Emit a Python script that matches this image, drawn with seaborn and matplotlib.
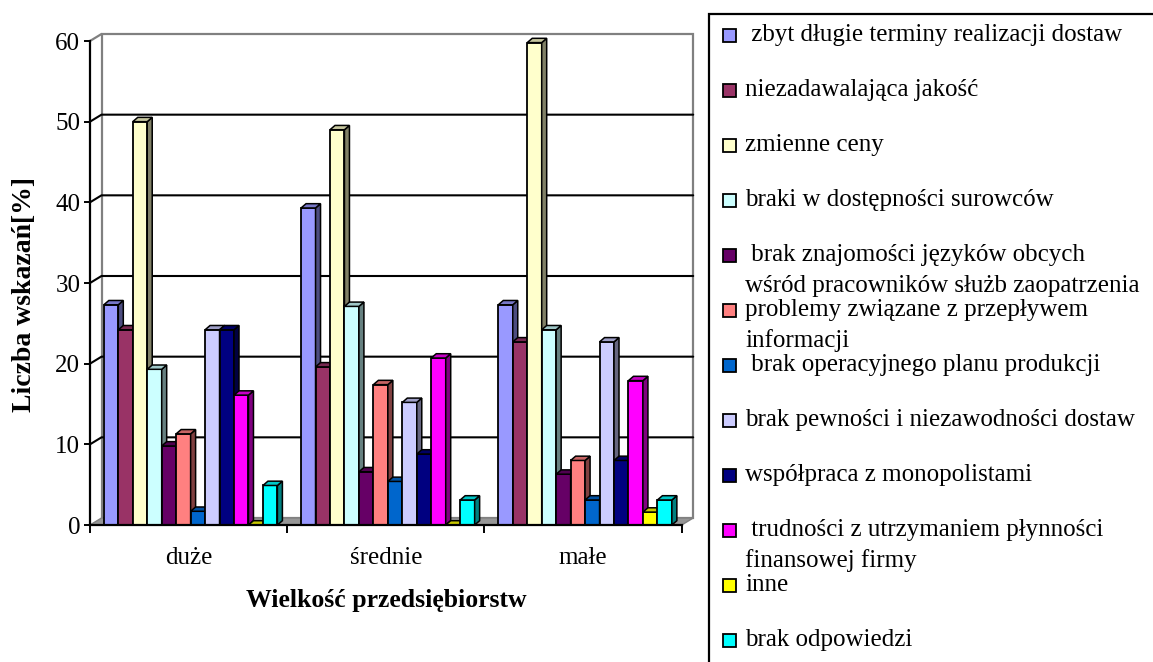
import numpy as np
import pandas as pd
import matplotlib
matplotlib.use("Agg")
import matplotlib.pyplot as plt
from matplotlib.patches import Polygon, Rectangle
from matplotlib.lines import Line2D
from matplotlib.colors import to_rgb
import seaborn as sns

# Company size groups
sizes = ["duże", "średnie", "małe"]

# Supply problems (legend labels)
causes = [
    " zbyt długie terminy realizacji dostaw",
    "niezadawalająca jakość",
    "zmienne ceny",
    "braki w dostępności surowców",
    " brak znajomości języków obcych\nwśród pracowników służb zaopatrzenia",
    "problemy związane z przepływem\ninformacji",
    " brak operacyjnego planu produkcji",
    "brak pewności i niezawodności dostaw",
    "współpraca z monopolistami",
    " trudności z utrzymaniem płynności\nfinansowej firmy",
    "inne",
    "brak odpowiedzi",
]

# Share of indications [%] per problem, for duże / średnie / małe
v_duze = [27.3, 24.2, 50.0, 19.3, 9.8, 11.3, 1.7, 24.2, 24.2, 16.1, 0.0, 4.9]
v_srednie = [39.3, 19.6, 49.0, 27.1, 6.6, 17.4, 5.4, 15.2, 8.8, 20.7, 0.0, 3.1]
v_male = [27.3, 22.7, 59.8, 24.2, 6.3, 8.0, 3.1, 22.7, 8.0, 17.9, 1.6, 3.1]

colors = ["#9999FF", "#993366", "#FFFFCC", "#CCFFFF", "#660066", "#FF8080",
          "#0066CC", "#CCCCFF", "#000080", "#FF00FF", "#FFFF00", "#00FFFF"]

df = pd.DataFrame({
    "size": np.repeat(sizes, len(causes)),
    "cause": causes * len(sizes),
    "value": v_duze + v_srednie + v_male,
})

sns.set_theme(style="white")
plt.rcParams["font.family"] = ["Liberation Serif", "DejaVu Serif"]
plt.rcParams.update({"text.color": "black", "axes.labelcolor": "black",
                     "xtick.color": "black", "ytick.color": "black"})
FS = 18

W, H = 1153, 662
fig = plt.figure(figsize=(W / 100, H / 100), dpi=100)
ax_left, ax_right, ax_top, ax_bot = 90, 681.7, 41, 525
ax = fig.add_axes([ax_left / W, 1 - ax_bot / H, (ax_right - ax_left) / W, (ax_bot - ax_top) / H])
ax.patch.set_visible(False)

sns.barplot(data=df, x="size", y="value", hue="cause", order=sizes, hue_order=causes,
            palette=colors, width=0.88, gap=0, edgecolor="black", linewidth=1.3,
            saturation=1, legend=False, ax=ax)

ax.set_xlim(-0.5, 2.5)
ax.set_ylim(0, 60)

# pixel -> data scale for the 3-D depth offsets
px_x = 1.0 / (ax_right - ax_left) * 3.0
px_y = 60.0 / (ax_bot - ax_top)
dxw, dyw = 11.5 * px_x, 7.0 * px_y      # back wall depth
dxb, dyb = 5.0 * px_x, 4.3 * px_y       # bar depth

# back wall, side wall and floor
grey = "#808080"
ax.add_patch(Rectangle((-0.5 + dxw, dyw), 3.0, 60, facecolor="white", edgecolor=grey,
                       lw=1.6, zorder=0.5, clip_on=False))
ax.add_patch(Polygon([(-0.5, 0), (2.5, 0), (2.5 + dxw, dyw), (-0.5 + dxw, dyw)],
                     closed=True, facecolor="#969696", edgecolor=grey, lw=1.0,
                     zorder=0.55, clip_on=False))
for v in range(10, 60, 10):
    ax.add_line(Line2D([-0.5, -0.5 + dxw, 2.5 + dxw], [v, v + dyw, v + dyw],
                       color="black", lw=1.5, zorder=0.6, clip_on=False))
ax.add_line(Line2D([-0.5, -0.5 + dxw], [60, 60 + dyw], color=grey, lw=1.6,
                   zorder=0.6, clip_on=False))

# extrude the bars: top and right side faces
for k, cont in enumerate(ax.containers):
    base = np.array(to_rgb(colors[k]))
    top_c = base * 0.78
    side_c = base * 0.5
    for bar in cont:
        z = 2 + 0.01 * k
        bar.set_zorder(z)
        bar.set_x(bar.get_x() + 2.0 * px_x)
        x0, w, h = bar.get_x(), bar.get_width(), bar.get_height()
        x1 = x0 + w
        side = Polygon([(x1, 0), (x1 + dxb, dyb), (x1 + dxb, h + dyb), (x1, h)], closed=True,
                       facecolor=side_c, edgecolor="black", lw=1.1, zorder=z + 0.004,
                       clip_on=False)
        top = Polygon([(x0, h), (x0 + dxb, h + dyb), (x1 + dxb, h + dyb), (x1, h)], closed=True,
                      facecolor=top_c, edgecolor="black", lw=1.1, zorder=z + 0.005,
                      clip_on=False)
        ax.add_patch(side)
        ax.add_patch(top)

# axes
for s in ["top", "right"]:
    ax.spines[s].set_visible(False)
for s in ["left", "bottom"]:
    ax.spines[s].set_color("black")
    ax.spines[s].set_linewidth(1.6)
    ax.spines[s].set_zorder(5)

ax.set_yticks(range(0, 61, 10))
ax.tick_params(axis="y", direction="out", length=4, width=1.4, color="black",
               labelsize=FS, pad=3, left=True)
ax.set_xticks(range(len(sizes)))
ax.set_xticklabels(sizes)
ax.set_xticks([-0.5, 0.5, 1.5, 2.5], minor=True)
ax.tick_params(axis="x", which="major", length=0, labelsize=FS, pad=16)
ax.tick_params(axis="x", which="minor", direction="out", length=6, width=1.4,
               color="black", bottom=True)
ax.grid(False)

ax.set_xlabel("Wielkość przedsiębiorstw", fontsize=18.5, fontweight="bold")
ax.xaxis.set_label_coords(0.5, (ax_bot - 601) / (ax_bot - ax_top))
ax.xaxis.label.set_va("center")
ax.set_ylabel("Liczba wskazań[%]", fontsize=20, fontweight="bold")
ax.yaxis.set_label_coords((25 - ax_left) / (ax_right - ax_left), (ax_bot - 295) / (ax_bot - ax_top))
ax.yaxis.label.set_va("center")

# legend panel
fig.add_artist(Rectangle((709 / W, -0.1), 0.6, 1.1 - 14 / H, transform=fig.transFigure,
                         facecolor="white", edgecolor="black", lw=1.6))
row0, row_step, line_step = 35, 55, 31
for k, lab in enumerate(causes):
    yc = row0 + k * row_step
    fig.add_artist(Rectangle((723 / W, 1 - (yc + 6.5) / H), 13 / W, 13 / H,
                             transform=fig.transFigure, facecolor=colors[k],
                             edgecolor="black", lw=1.3))
    for j, line in enumerate(lab.split("\n")):
        fig.text(745 / W, 1 - (yc + j * line_step) / H, line, fontsize=FS,
                 ha="left", va="center")

fig.savefig("out.png", dpi=100)
